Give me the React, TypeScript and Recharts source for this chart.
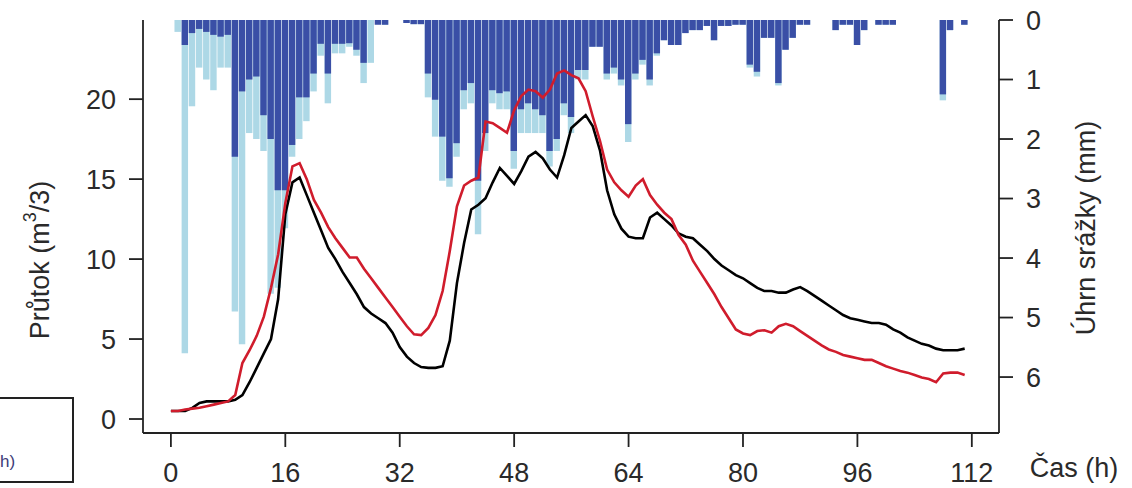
import React from 'react';
import { ComposedChart, Bar, Line, XAxis, YAxis } from 'recharts';

// hodiny od začátku události
const hours = Array.from({ length: 112 }, (_, i) => i);

// průtok (m3/s) – pozorovaný (černá) a simulovaný (červená)
const observed = [
  0.5, 0.5, 0.5, 0.7, 1.0, 1.1, 1.1, 1.1, 1.1, 1.2,
  1.5, 2.3, 3.2, 4.1, 5.0, 7.5, 12.8, 14.8, 15.1, 14.0,
  12.9, 11.8, 10.7, 10.0, 9.2, 8.5, 7.8, 7.0, 6.6, 6.3,
  6.0, 5.4, 4.5, 3.9, 3.5, 3.25, 3.2, 3.2, 3.3, 4.9,
  8.5, 11.0, 13.1, 13.4, 13.8, 14.8, 15.7, 15.2, 14.7, 15.5,
  16.4, 16.7, 16.3, 15.6, 15.1, 16.5, 18.2, 18.6, 19.0, 18.3,
  16.8, 14.3, 12.8, 11.9, 11.4, 11.3, 11.3, 12.6, 12.9, 12.5,
  12.1, 11.6, 11.4, 11.3, 10.9, 10.5, 10.0, 9.6, 9.3, 9.0,
  8.8, 8.5, 8.2, 8.0, 8.0, 7.9, 7.9, 8.1, 8.25, 8.0,
  7.7, 7.4, 7.1, 6.8, 6.5, 6.3, 6.2, 6.1, 6.0, 6.0,
  5.9, 5.6, 5.4, 5.1, 4.9, 4.7, 4.6, 4.4, 4.3, 4.3,
  4.3, 4.4,
];

const simulated = [
  0.5, 0.5, 0.6, 0.65, 0.7, 0.8, 0.9, 1.0, 1.1, 1.5,
  3.5, 4.3, 5.2, 6.4, 8.2, 10.3, 13.5, 15.8, 16.0, 15.0,
  13.7, 12.9, 12.0, 11.3, 10.7, 10.1, 10.1, 9.4, 8.8, 8.2,
  7.6, 7.0, 6.4, 5.8, 5.3, 5.25, 5.7, 6.5, 8.0, 10.5,
  13.3, 14.6, 14.9, 15.1, 18.6, 18.5, 18.2, 17.9, 19.3, 20.2,
  20.6, 20.5, 20.1, 20.6, 21.6, 21.8, 21.5, 21.3, 20.5, 18.9,
  17.4, 15.6, 14.8, 14.3, 13.9, 14.6, 15.0, 14.0, 13.4, 12.9,
  12.5, 11.5, 10.9, 9.9, 9.2, 8.5, 7.8, 7.0, 6.3, 5.6,
  5.35, 5.25, 5.5, 5.55, 5.4, 5.8, 5.95, 5.8, 5.5, 5.2,
  4.9, 4.6, 4.35, 4.2, 4.0, 3.9, 3.8, 3.7, 3.7, 3.5,
  3.3, 3.15, 3.0, 2.9, 2.75, 2.6, 2.5, 2.3, 2.85, 2.9,
  2.9, 2.75,
];

// srážky (mm) – úhrn (světle modrá) a efektivní (tmavě modrá)
const rainTotal = [
  0, 0.2, 5.6, 1.45, 0.8, 1.0, 1.18, 0.8, 0.8, 4.9,
  5.45, 1.9, 2.0, 2.2, 4.6, 4.5, 3.5, 2.3, 2.0, 1.7,
  1.2, 0.6, 1.4, 0.56, 0.56, 0.45, 0.6, 1.06, 0.72, 0,
  0.08, 0, 0, 0.05, 0.07, 0.07, 1.3, 1.96, 2.7, 2.8,
  2.3, 1.5, 1.4, 3.6, 2.2, 1.4, 1.5, 1.5, 2.5, 1.9,
  1.9, 1.9, 1.9, 2.46, 2.2, 1.6, 1.9, 1.0, 1.0, 0.45,
  0.45, 1.0, 0.9, 1.1, 2.05, 1.0, 0.75, 1.1, 0.6, 0.34,
  0.42, 0.42, 0.22, 0.17, 0.17, 0.1, 0.34, 0.1, 0.1, 0.08,
  0.08, 0.8, 0.95, 0.3, 0.3, 1.1, 0.5, 0.3, 0.08, 0.08,
  0, 0, 0, 0.17, 0.08, 0.08, 0.42, 0.17, 0, 0.08,
  0.08, 0.08, 0, 0, 0, 0, 0, 0, 1.35, 0.17,
  0, 0.08,
];

const rainEffective = [
  0, 0, 0.42, 0.22, 0.15, 0.2, 0.25, 0.28, 0.25, 2.3,
  1.2, 1.0, 0.95, 1.6, 2.0, 2.86, 2.86, 2.1, 1.3, 1.3,
  0.9, 0.4, 0.9, 0.4, 0.4, 0.39, 0.5, 0.72, 0, 0.08,
  0.08, 0, 0, 0.05, 0.07, 0.07, 0.9, 1.34, 1.96, 2.66,
  2.07, 1.18, 1.06, 2.7, 1.9, 1.18, 1.23, 1.2, 2.2, 1.5,
  1.4, 1.5, 1.6, 2.2, 2.0, 1.4, 1.63, 0.84, 0.84, 0.45,
  0.45, 0.9, 0.8, 1.0, 1.75, 0.9, 0.67, 1.0, 0.56, 0.34,
  0.42, 0.42, 0.22, 0.17, 0.17, 0.1, 0.34, 0.1, 0.1, 0.08,
  0.08, 0.75, 0.87, 0.3, 0.3, 1.06, 0.5, 0.3, 0.08, 0.08,
  0, 0, 0, 0.17, 0.08, 0.08, 0.42, 0.17, 0, 0.08,
  0.08, 0.08, 0, 0, 0, 0, 0, 0, 1.25, 0.17,
  0, 0.08,
];

const timeTicks = [0, 16, 32, 48, 64, 80, 96, 112];
const flowTicks = [0, 5, 10, 15, 20];
const rainTicks = [0, 1, 2, 3, 4, 5, 6];

const data = hours.map((t, i) => ({
  t,
  observed: observed[i],
  simulated: simulated[i],
  total: rainTotal[i],
  effective: rainEffective[i],
}));

const FONT = '"Liberation Sans", Arial, sans-serif';
const AXIS = '#222';
const TEXT = '#2a2a2a';
const tickStyle = { fontSize: 27, fill: TEXT, fontFamily: FONT };

export default function App() {
  return (
    <div style={{ position: 'absolute', left: 0, top: 0, width: 1132, height: 488, overflow: 'hidden', background: '#fff' }}>
      <ComposedChart
        width={1132}
        height={488}
        data={data}
        margin={{ top: 20, right: 0, bottom: 0, left: 0 }}
        barCategoryGap={0}
        style={{ fontFamily: FONT }}
      >
        <XAxis
          xAxisId="main"
          dataKey="t"
          type="number"
          domain={[-3.9, 115.8]}
          allowDataOverflow
          ticks={timeTicks}
          interval={0}
          height={55}
          tickSize={14}
          tickMargin={16}
          tick={tickStyle}
          stroke={AXIS}
          strokeWidth={1.8}
        />
        <XAxis
          xAxisId="top"
          dataKey="t"
          type="number"
          orientation="top"
          domain={[-3.9, 115.8]}
          allowDataOverflow
          height={0}
          tick={false}
          tickLine={false}
          stroke={AXIS}
          strokeWidth={1.8}
        />
        <YAxis
          yAxisId="flow"
          domain={[-0.875, 24.95]}
          allowDataOverflow
          ticks={flowTicks}
          interval={0}
          width={143}
          tickSize={14}
          tickMargin={13}
          tick={tickStyle}
          stroke={AXIS}
          strokeWidth={1.8}
        />
        <YAxis
          yAxisId="rain"
          orientation="right"
          reversed
          domain={[0, 6.94]}
          allowDataOverflow
          ticks={rainTicks}
          interval={0}
          width={133}
          tickSize={14}
          tickMargin={13}
          tick={tickStyle}
          stroke={AXIS}
          strokeWidth={1.8}
        />

        {/* srážky visí od horního okraje */}
        <Bar xAxisId="main" yAxisId="rain" dataKey="total" fill="#add8e6" barSize={8} isAnimationActive={false} />
        <Bar xAxisId="top" yAxisId="rain" dataKey="effective" fill="#3a4fa6" barSize={8} isAnimationActive={false} />

        <Line xAxisId="main" yAxisId="flow" type="linear" dataKey="observed" stroke="#000" strokeWidth={2.6} dot={false} isAnimationActive={false} />
        <Line xAxisId="main" yAxisId="flow" type="linear" dataKey="simulated" stroke="#d01c2c" strokeWidth={2.6} dot={false} isAnimationActive={false} />

        <text x={40} y={260} transform="rotate(-90 40 260)" textAnchor="middle" dominantBaseline="central" fontSize={27} fill={TEXT} fontFamily={FONT}>
          Průtok (m<tspan dy={-10} fontSize={18}>3</tspan><tspan dy={10}>/3)</tspan>
        </text>
        <text x={1086} y={228} transform="rotate(-90 1086 228)" textAnchor="middle" dominantBaseline="central" fontSize={27} fill={TEXT} fontFamily={FONT}>
          Úhrn srážky (mm)
        </text>
        <text x={1074} y={477} textAnchor="middle" fontSize={27} fill={TEXT} fontFamily={FONT}>
          Čas (h)
        </text>
      </ComposedChart>

      {/* useknutá legenda vlevo dole */}
      <div
        style={{
          position: 'absolute',
          left: -10,
          top: 397,
          width: 80,
          height: 82,
          border: '2px solid #222',
          background: '#fff',
        }}
      />
      <div style={{ position: 'absolute', left: 0, top: 452, fontSize: 17, fontFamily: FONT, color: '#3d3c78' }}>h)</div>
    </div>
  );
}
